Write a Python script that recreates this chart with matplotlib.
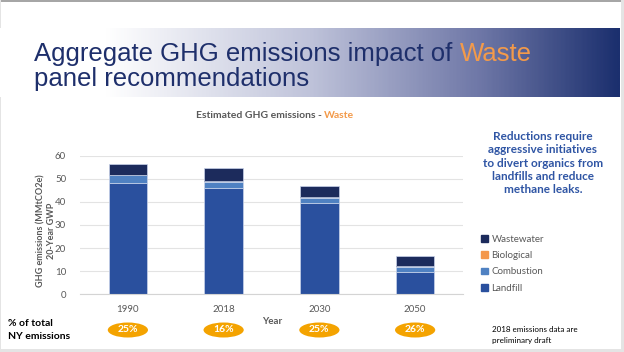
import numpy as np
import matplotlib
matplotlib.use("Agg")
import matplotlib.pyplot as plt
import matplotlib.transforms as mtransforms
from matplotlib.patches import Ellipse, Rectangle, Patch
from matplotlib.colors import LinearSegmentedColormap

# data
years = ["1990", "2018", "2030", "2050"]
landfill = [48.3, 46.2, 39.4, 9.8]
combustion = [3.3, 2.3, 2.1, 2.2]
biological = [0.0, 0.5, 0.5, 0.4]
wastewater = [4.9, 5.7, 4.7, 4.3]
share_of_ny = ["25%", "16%", "25%", "26%"]
y_ticks = [0, 10, 20, 30, 40, 50, 60]

col_landfill = "#2a509e"
col_combustion = "#4f81c2"
col_bio = "#f4974a"
col_waste = "#1c2b5c"
grey_txt = "#595959"
navy = "#1e2f6b"
orange = "#f39a4a"

calibri = ["Lato", "DejaVu Sans"]
arial = ["Liberation Sans", "DejaVu Sans"]

W, H = 624, 352
fig = plt.figure(figsize=(W / 100, H / 100), dpi=100)
fig.patch.set_facecolor("white")

# slide frame
frame = fig.add_axes([0, 0, 1, 1], zorder=-5)
frame.set_xlim(0, W)
frame.set_ylim(H, 0)
frame.axis("off")
frame.add_patch(Rectangle((0, 0), W, 2, color="#a6a6a6", lw=0))
frame.add_patch(Rectangle((621, 0), 3, H, color="#e4e4e4", lw=0))
frame.add_patch(Rectangle((0, 349), W, 3, color="#e4e4e4", lw=0))
frame.add_patch(Rectangle((0, 0), 1, H, color="#e4e4e4", lw=0))

# gradient banner
banner = fig.add_axes([0, 1 - 97 / H, 620 / W, 69 / H], zorder=-4)
cmap = LinearSegmentedColormap.from_list(
    "banner", [(0, "#ffffff"), (0.17, "#ffffff"), (0.5, "#bfc3da"),
               (0.78, "#6d76a6"), (1.0, "#1b2f6e")])
banner.imshow(np.linspace(0, 1, 400)[None, :], aspect="auto", cmap=cmap,
              extent=[0, 1, 0, 1])
banner.axis("off")

# title with orange "Waste"
tsize = 18.5
t1 = fig.text(34 / W, 1 - 61 / H, "Aggregate GHG emissions impact of ",
              fontsize=tsize, color=navy, family=arial, va="baseline")
fig.canvas.draw()
r = fig.canvas.get_renderer()
bb = t1.get_window_extent(r)
fig.text(bb.x1 / W, 1 - 61 / H, "Waste", fontsize=tsize, color=orange,
         family=arial, va="baseline")
fig.text(34 / W, 1 - 86 / H, "panel recommendations", fontsize=tsize,
         color=navy, family=arial, va="baseline")

# chart subtitle
s1 = fig.text(196 / W, 1 - 115 / H, "Estimated GHG emissions - ",
              fontsize=7.5, color=grey_txt, weight="bold", family=calibri,
              va="center")
fig.canvas.draw()
bb = s1.get_window_extent(r)
fig.text(bb.x1 / W, 1 - 115 / H, "Waste", fontsize=7.5, color=orange,
         weight="bold", family=calibri, va="center")

# main chart
ax = fig.add_axes([80 / W, 1 - 294.3 / H, 383 / W, 138.6 / H])
x = np.arange(len(years))
bw = 0.4
edge = dict(edgecolor="#c9d3ea", linewidth=0.5)
b1 = ax.bar(x, landfill, bw, color=col_landfill, **edge)
bottom = np.array(landfill)
b2 = ax.bar(x, combustion, bw, bottom=bottom, color=col_combustion, **edge)
bottom = bottom + np.array(combustion)
b3 = ax.bar(x, biological, bw, bottom=bottom, color="#8a8f9c", linewidth=0)
bottom = bottom + np.array(biological)
b4 = ax.bar(x, wastewater, bw, bottom=bottom, color=col_waste, **edge)

ax.set_xlim(-0.5, len(years) - 0.5)
ax.set_ylim(0, 60)
ax.set_yticks(y_ticks)
ax.set_xticks(x)
ax.set_xticklabels(years)
ax.tick_params(length=0, labelsize=7, colors=grey_txt, pad=8)
ax.tick_params(axis="y", pad=10)
for lab in ax.get_xticklabels() + ax.get_yticklabels():
    lab.set_family(calibri)
ax.grid(axis="y", color="#e3e3e3", lw=0.8)
ax.set_axisbelow(True)
for s in ["top", "right", "left"]:
    ax.spines[s].set_visible(False)
ax.spines["bottom"].set_color("#d4d4d4")

# y label (two lines)
fig.text(41 / W, 1 - 231 / H, "GHG emissions (MMtCO2e)", rotation=90,
         fontsize=6.5, color=grey_txt, weight="bold", family=calibri,
         ha="center", va="center")
fig.text(51 / W, 1 - 231 / H, "20-Year GWP", rotation=90, fontsize=6.5,
         color=grey_txt, weight="bold", family=calibri, ha="center",
         va="center")
fig.text(272 / W, 1 - 322 / H, "Year", fontsize=7, color=grey_txt,
         weight="bold", family=calibri, ha="center", va="center")

# legend
handles = [Patch(color=col_waste), Patch(color=col_bio),
           Patch(color=col_combustion), Patch(color=col_landfill)]
labels = ["Wastewater", "Biological", "Combustion", "Landfill"]
leg = fig.legend(handles, labels, loc="upper left",
                 bbox_to_anchor=(472 / W, 1 - 226 / H), frameon=False,
                 fontsize=7, handlelength=0.7, handleheight=0.7,
                 handletextpad=0.4, labelspacing=0.75,
                 prop={"family": calibri, "size": 7})
for t in leg.get_texts():
    t.set_color(grey_txt)

# right note
fig.text(543 / W, 1 - 163 / H,
         "Reductions require\naggressive initiatives\nto divert organics from\n"
         "landfills and reduce\nmethane leaks.",
         fontsize=8.5, color="#2f55a4", weight="bold", family=calibri,
         ha="center", va="center", linespacing=1.25)

# share of NY emissions
fig.text(8 / W, 1 - 330 / H, "% of total\nNY emissions", fontsize=7.5,
         color="black", weight="bold", family=calibri, va="center",
         linespacing=1.5)
tr = mtransforms.blended_transform_factory(ax.transData, fig.transFigure)
for i, p in enumerate(share_of_ny):
    ax.add_patch(Ellipse((x[i], 1 - 330 / H), 0.42, 15 / H, transform=tr,
                         color="#f4a300", clip_on=False, lw=0))
    ax.text(x[i], 1 - 330 / H, p, transform=tr, ha="center", va="center",
            fontsize=7.5, color="white", weight="bold", family=calibri)

fig.text(492 / W, 1 - 335 / H, "2018 emissions data are\npreliminary draft",
         fontsize=5.8, color="black", family=calibri, va="center",
         linespacing=1.6)

fig.savefig("out.png", dpi=100)
